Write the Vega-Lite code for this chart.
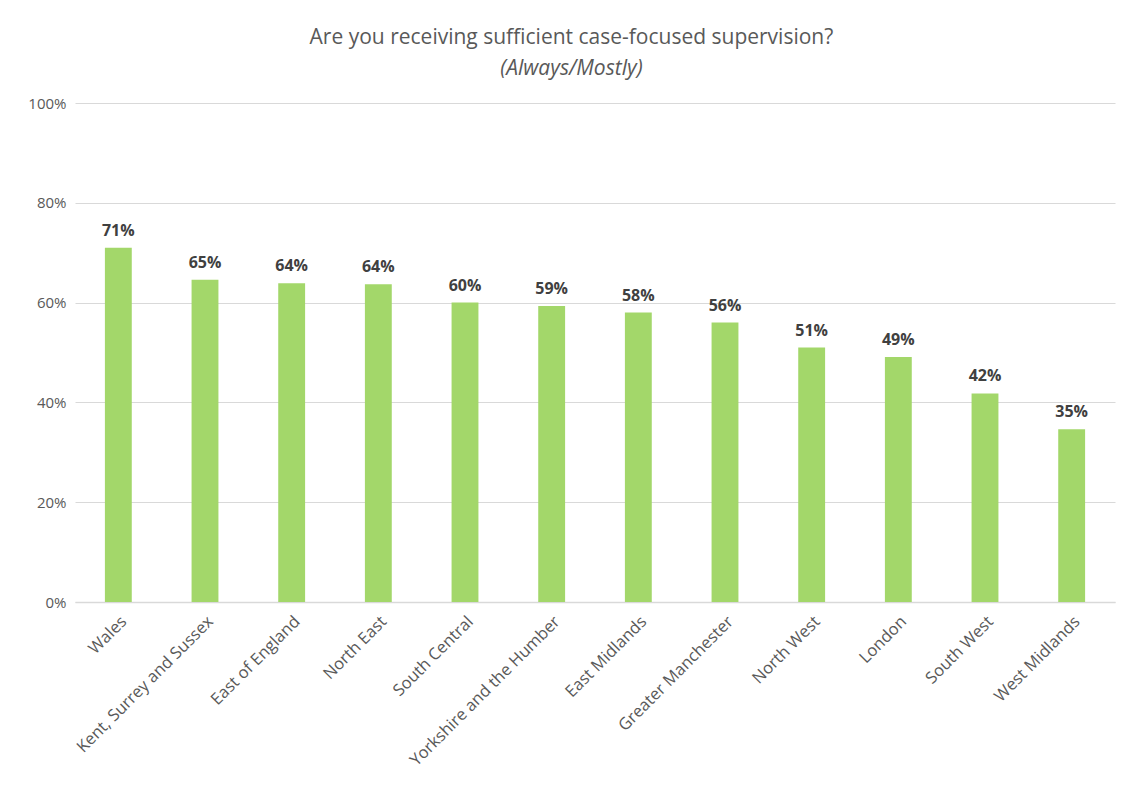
{
  "$schema": "https://vega.github.io/schema/vega-lite/v6.json",
  "autosize": {"type": "none"},
  "width": 1040,
  "height": 499,
  "padding": {"left": 75, "top": 103, "right": 10, "bottom": 185},
  "background": "white",
  "title": {
    "text": "Are you receiving sufficient case-focused  supervision?",
    "subtitle": "(Always/Mostly)",
    "anchor": "middle",
    "frame": "bounds",
    "font": "Open Sans",
    "fontSize": 21,
    "fontWeight": "normal",
    "color": "#595959",
    "subtitleFont": "Open Sans",
    "subtitleFontSize": 21,
    "subtitleFontStyle": "italic",
    "subtitleColor": "#595959",
    "subtitlePadding": 10,
    "offset": 17
  },
  "data": {
    "values": [
      {"region": "Wales", "value": 0.71},
      {"region": "Kent, Surrey and Sussex", "value": 0.646},
      {"region": "East of England", "value": 0.639},
      {"region": "North East", "value": 0.637},
      {"region": "South Central", "value": 0.6},
      {"region": "Yorkshire and the Humber", "value": 0.593},
      {"region": "East Midlands", "value": 0.58},
      {"region": "Greater Manchester", "value": 0.56},
      {"region": "North West", "value": 0.51},
      {"region": "London", "value": 0.491},
      {"region": "South West", "value": 0.418},
      {"region": "West Midlands", "value": 0.346}
    ]
  },
  "encoding": {
    "x": {
      "field": "region",
      "type": "nominal",
      "sort": null,
      "scale": {"paddingInner": 0.69, "paddingOuter": 0.345},
      "axis": {
        "title": null,
        "labelAngle": -45,
        "labelFont": "Open Sans",
        "labelFontSize": 16.5,
        "labelColor": "#595959",
        "labelPadding": 11,
        "labelLimit": 400,
        "ticks": false,
        "domainColor": "#d9d9d9",
        "domainWidth": 1.5
      }
    },
    "y": {
      "field": "value",
      "type": "quantitative",
      "scale": {"domain": [0, 1]},
      "axis": {
        "title": null,
        "values": [0, 0.2, 0.4, 0.6, 0.8, 1],
        "format": ".0%",
        "labelFont": "Open Sans",
        "labelFontSize": 15,
        "labelColor": "#595959",
        "labelPadding": 9,
        "ticks": false,
        "domain": false,
        "gridColor": "#d9d9d9",
        "gridWidth": 1.2
      }
    }
  },
  "layer": [
    {"mark": {"type": "bar", "color": "#A3D76A"}},
    {
      "mark": {
        "type": "text",
        "baseline": "bottom",
        "dy": -9,
        "font": "Open Sans",
        "fontSize": 16,
        "fontWeight": "bold",
        "color": "#404040"
      },
      "encoding": {"text": {"field": "value", "type": "quantitative", "format": ".0%"}}
    }
  ],
  "config": {"view": {"stroke": null}}
}
